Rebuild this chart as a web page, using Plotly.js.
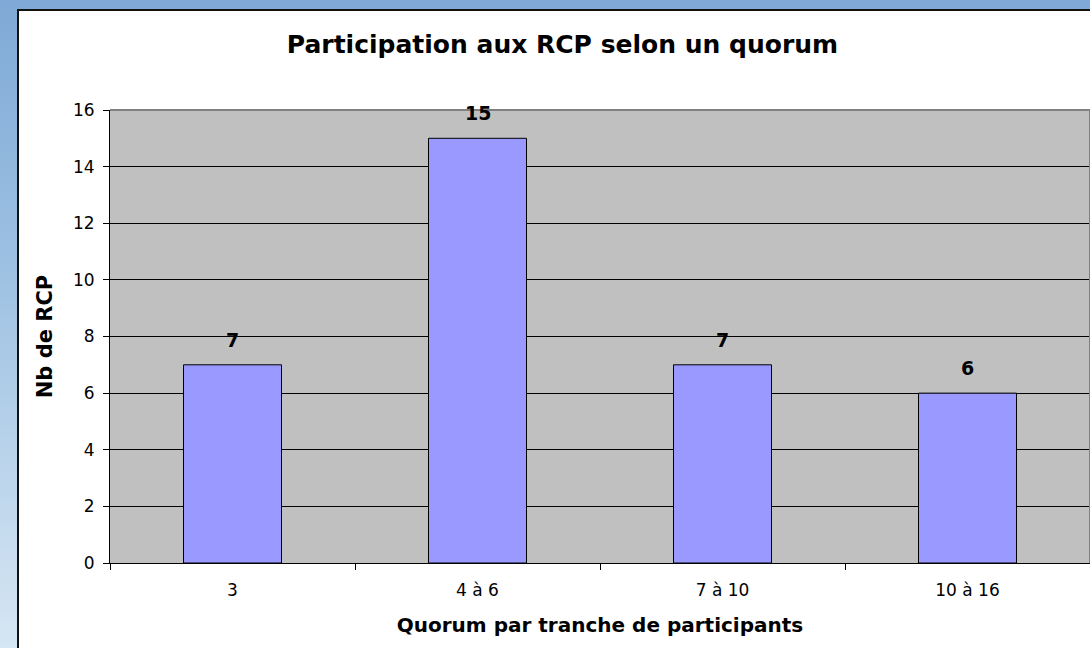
<!DOCTYPE html>
<html>
<head>
<meta charset="utf-8">
<script src="https://cdn.plot.ly/plotly-3.0.1.min.js"></script>
<style>
html,body{margin:0;padding:0;}
body{width:1090px;height:648px;position:relative;overflow:hidden;
background:linear-gradient(180deg,#7fa9d6 0%,#9cc0e2 40%,#d6e6f3 100%);}
#frame{position:absolute;left:17px;top:9px;width:1090px;height:650px;background:#fff;
border-left:2px solid #111;border-top:2px solid #111;}
#chart{position:absolute;left:0;top:0;width:1090px;height:648px;}
</style>
</head>
<body>
<div id="frame"></div>
<div id="chart"></div>
<script>
const categories = ["3", "4 à 6", "7 à 10", "10 à 16"];
const values = [7, 15, 7, 6];
const chartTitle = "Participation aux RCP selon un quorum";
const xTitle = "Quorum par tranche de participants";
const yTitle = "Nb de RCP";

const font = "DejaVu Sans, Liberation Sans, Arial, sans-serif";

const trace = {
  type: "bar",
  x: categories,
  y: values,
  width: 0.4,
  marker: {color: "#9999FF", line: {color: "#000", width: 1}},
  hoverinfo: "x+y"
};

const annotations = categories.map((c, i) => ({
  x: i, y: values[i], xref: "x", yref: "y",
  text: "<b>" + values[i] + "</b>", showarrow: false,
  yanchor: "bottom", yshift: 12,
  font: {family: font, size: 19, color: "#000"}
}));

const layout = {
  width: 1090, height: 648,
  margin: {l: 110, r: 0, t: 110, b: 85},
  paper_bgcolor: "rgba(0,0,0,0)",
  plot_bgcolor: "#C0C0C0",
  showlegend: false,
  bargap: 0.6,
  title: {text: "<b>" + chartTitle + "</b>", x: 0.516, xref: "container", xanchor: "center",
    y: 1 - 44/648, yref: "container", yanchor: "middle",
    font: {family: font, size: 25, color: "#000"}},
  xaxis: {
    type: "category",
    tickson: "boundaries",
    ticks: "outside", ticklen: 6, tickcolor: "#000", tickwidth: 1,
    showline: true, linecolor: "#000", linewidth: 1,
    showgrid: false,
    ticklabelstandoff: 12,
    tickfont: {family: font, size: 17, color: "#000"},
    title: {text: "<b>" + xTitle + "</b>", standoff: 18, font: {family: font, size: 20, color: "#000"}}
  },
  yaxis: {
    range: [0, 16], dtick: 2, tick0: 0,
    ticks: "outside", ticklen: 6, tickcolor: "#000", tickwidth: 1,
    showline: true, linecolor: "#000", linewidth: 1,
    showgrid: true, gridcolor: "#000", gridwidth: 1,
    zeroline: true, zerolinecolor: "#000", zerolinewidth: 1,
    ticklabelstandoff: 5,
    tickfont: {family: font, size: 17, color: "#000"},
    title: {text: "<b>" + yTitle + "</b>", standoff: 14, font: {family: font, size: 21, color: "#000"}}
  },
  shapes: [
    {type: "line", xref: "paper", yref: "paper", x0: 0, x1: 1, y0: 1, y1: 1,
     line: {color: "#808080", width: 2}, layer: "above"},
    {type: "line", xref: "paper", yref: "paper", x0: 1, x1: 1, y0: 0, y1: 1,
     line: {color: "#808080", width: 2}, layer: "above"}
  ],
  annotations: annotations
};

Plotly.newPlot("chart", [trace], layout, {displayModeBar: false, staticPlot: true});
</script>
</body>
</html>
